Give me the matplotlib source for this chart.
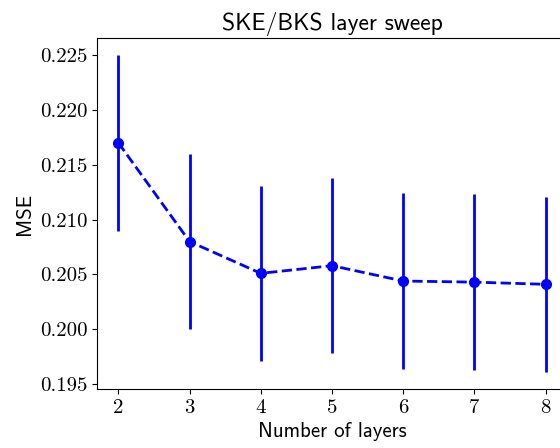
import matplotlib
matplotlib.use("Agg")
import matplotlib.pyplot as plt

plt.rcParams['font.family'] = ['cmss10', 'DejaVu Sans']
plt.rcParams['axes.unicode_minus'] = False

layers = [2, 3, 4, 5, 6, 7, 8]
mse_mean = [0.2170, 0.2080, 0.2051, 0.2058, 0.2044, 0.2043, 0.2041]
mse_err = [0.0080, 0.0080, 0.0080, 0.0080, 0.0080, 0.0080, 0.0080]
yticks = [0.195, 0.200, 0.205, 0.210, 0.215, 0.220, 0.225]

fig = plt.figure(figsize=(5.6, 4.48), dpi=100)
ax = fig.add_axes([97/560, 59/448, 470/560, 351/448])
ax.errorbar(layers, mse_mean, yerr=mse_err, color='blue', ls='--', lw=2,
            marker='o', ms=7, elinewidth=2, capsize=0)
ax.set_xlim(1.7, 8.3)
ax.set_ylim(0.19456, 0.22655)
ax.set_xticks(layers)
ax.set_xticklabels(['%d' % v for v in layers], fontfamily='cmr10', fontsize=15)
ax.set_yticks(yticks)
ax.set_yticklabels(['%.3f' % v for v in yticks], fontfamily='cmr10', fontsize=15)
ax.set_xlabel('Number of layers', fontsize=15)
ax.set_ylabel('MSE', fontsize=15)
ax.set_title('SKE/BKS layer sweep', fontsize=17)
fig.savefig('out.png', dpi=100)
